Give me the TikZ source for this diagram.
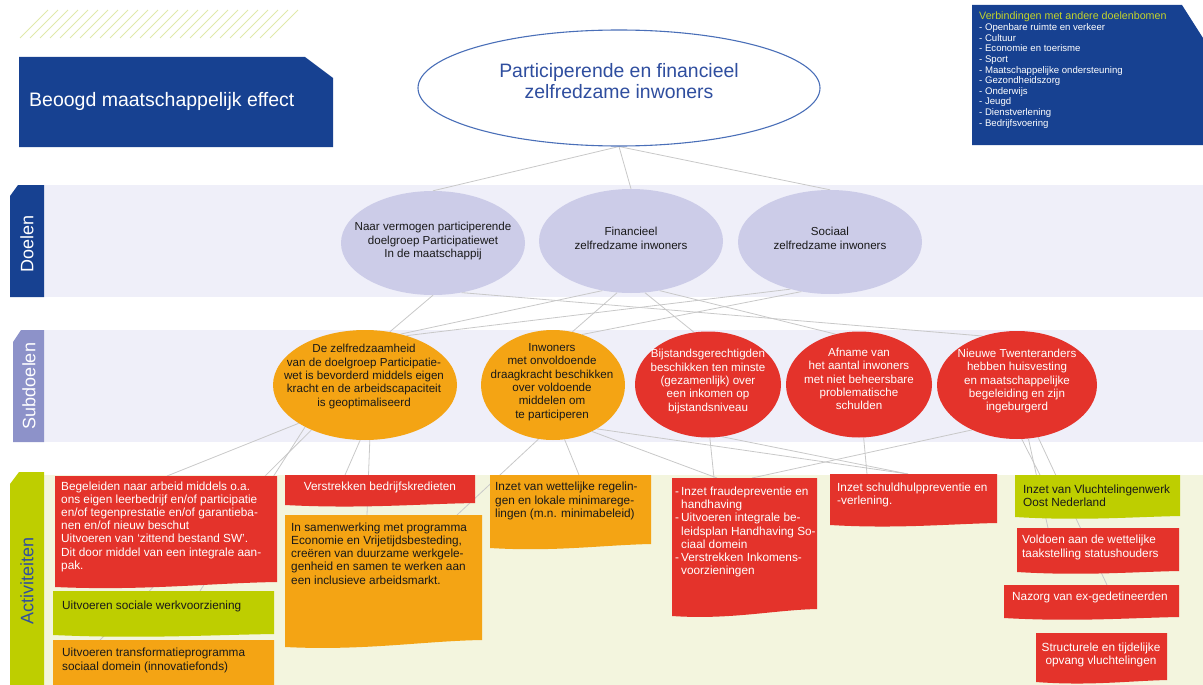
\documentclass[tikz,border=0pt]{standalone}
\usepackage{fontspec}
\setmainfont{Liberation Sans}
\usetikzlibrary{shapes.geometric}
\pgfdeclarelayer{bg}
\pgfdeclarelayer{lines}
\pgfsetlayers{bg,lines,main}
\definecolor{dblue}{RGB}{23,65,145}
\definecolor{tabpurple}{RGB}{141,146,201}
\definecolor{lime}{RGB}{190,206,0}
\definecolor{bandlav}{RGB}{239,239,249}
\definecolor{bandgreen}{RGB}{243,245,222}
\definecolor{doelfill}{RGB}{204,204,232}
\definecolor{orng}{RGB}{244,164,20}
\definecolor{rood}{RGB}{228,51,43}
\definecolor{conncol}{RGB}{200,200,200}
\definecolor{hatchcol}{RGB}{224,233,170}
\definecolor{titleblue}{RGB}{47,78,159}
\definecolor{ellblue}{RGB}{74,111,184}
\definecolor{verbgreen}{RGB}{196,212,42}
\definecolor{txt}{RGB}{25,25,25}
\newcommand\actbox[7]{%
  \fill[#2] (#3,#4) -- (#5,#4) -- (#5,#7) .. controls ({#5-0.3*(#5-#3)},{#7+1}) and ({#3+0.4*(#5-#3)},{#6+4}) .. (#3,#6) -- cycle;
  \node[boxnode, minimum width={#5-#3}, minimum height={#7-#4}] (#1) at (#3,#4) {};}
\newcommand\itm{\makebox[6pt][l]{-}}
\newcommand\hangi{\hspace*{6pt}}
\begin{document}
\begin{tikzpicture}[x=1pt,y=-1pt,
  conn/.style={draw=conncol, line width=0.8pt},
  boxnode/.style={anchor=north west, inner sep=0pt},
  doel/.style={ellipse, fill=doelfill, inner sep=0pt, minimum width=184pt, minimum height=104pt},
  sub/.style={ellipse, inner sep=0pt},
  etext/.style={align=center, inner sep=0pt, font=\fontsize{11.6}{13.3}\selectfont, text=txt},
  atext/.style={align=left, anchor=west, inner sep=0pt, font=\fontsize{11.8}{13.2}\selectfont, text=txt},
  wtext/.style={text=white},
  tablabel/.style={rotate=90, inner sep=0pt, font=\fontsize{18}{20}\selectfont}]
\useasboundingbox (0,0) rectangle (1203,685);
% bands and tabs
\begin{pgfonlayer}{bg}
\fill[bandlav] (44,185) rectangle (1203,297);
\fill[bandlav] (44,330) rectangle (1203,442);
\fill[bandgreen] (44,475) rectangle (1203,685);
\fill[dblue] (10,196) -- (18,185) -- (44,185) -- (44,297) -- (10,297) -- cycle;
\fill[tabpurple] (13,342) -- (21,330) -- (44,330) -- (44,442) -- (13,442) -- cycle;
\fill[lime] (10,484) -- (19,472) -- (44,472) -- (44,685) -- (10,685) -- cycle;
\end{pgfonlayer}
\node[tablabel, text=white] (lblD) at (27,244) {Doelen};
\node[tablabel, text=white] (lblS) at (29,386) {Subdoelen};
\node[tablabel, text=titleblue] (lblA) at (27,581) {Activiteiten};
% hatch
\foreach \k in {0,...,25} \draw[hatchcol, line width=1pt] ({20+10*\k},38) -- ({48+10*\k},10);
% effect box
\fill[dblue] (19,57) -- (305,57) -- (333,78) -- (333,147) -- (19,147) -- cycle;
\node[anchor=west, inner sep=0pt, text=white, font=\fontsize{19.5}{22}\selectfont] (effect) at (29,101) {Beoogd maatschappelijk effect};
% verbindingen box
\fill[dblue] (972,5) -- (1182,5) -- (1203,38) -- (1203,145) -- (972,145) -- cycle;
\node[anchor=west, inner sep=0pt, text=verbgreen, font=\fontsize{10.7}{12}\selectfont] (verbt) at (979,16.5) {Verbindingen met andere doelenbomen};
\node[anchor=west, align=left, inner sep=0pt, text=white, font=\fontsize{9.6}{10.6}\selectfont] (verbl) at (979,76) {- Openbare ruimte en verkeer\\- Cultuur\\- Economie en toerisme\\- Sport\\- Maatschappelijke ondersteuning\\- Gezondheidszorg\\- Onderwijs\\- Jeugd\\- Dienstverlening\\- Bedrijfsvoering};
% top ellipse
\node[ellipse, draw=ellblue, line width=1.1pt, fill=white, minimum width=402pt, minimum height=116pt, inner sep=0pt] (T) at (619,88) {};
\node[align=center, inner sep=0pt, text=titleblue, font=\fontsize{19.4}{21.7}\selectfont] (Tt) at (619,81) {Participerende en financieel\\zelfredzame inwoners};
% doelen
\node[doel] (E1) at (433,243) {};
\node[doel] (E2) at (631,241) {};
\node[doel] (E3) at (830,242) {};
\node[etext] (E1t) at (433,241) {Naar vermogen participerende\\doelgroep Participatiewet\\In de maatschappij};
\node[etext] (E2t) at (631,238.5) {Financieel\\zelfredzame inwoners};
\node[etext] (E3t) at (830,238.5) {Sociaal\\zelfredzame inwoners};
% subdoelen
\node[sub, fill=orng, minimum width=184pt, minimum height=110pt] (S1) at (365,385) {};
\node[sub, fill=orng, minimum width=144pt, minimum height=110pt] (S2) at (553,385) {};
\node[sub, fill=rood, minimum width=146pt, minimum height=106pt] (S3) at (708,384.5) {};
\node[sub, fill=rood, minimum width=146pt, minimum height=106pt] (S4) at (859,384.5) {};
\node[sub, fill=rood, minimum width=160pt, minimum height=108pt] (S5) at (1017,385) {};
\node[etext] (S1t) at (364,376.5) {De zelfredzaamheid\\van de doelgroep Participatie-\\wet is bevorderd middels eigen\\kracht en de arbeidscapaciteit\\is geoptimaliseerd};
\node[etext] (S2t) at (552,382) {Inwoners\\met onvoldoende\\draagkracht beschikken\\over voldoende\\middelen om\\te participeren};
\node[etext, wtext] (S3t) at (708,381.5) {Bijstandsgerechtigden\\beschikken ten minste\\(gezamenlijk) over\\een inkomen op\\bijstandsniveau};
\node[etext, wtext] (S4t) at (859,379) {Afname van\\het aantal inwoners\\met niet beheersbare\\problematische\\schulden};
\node[etext, wtext] (S5t) at (1017,381) {Nieuwe Twenteranders\\hebben huisvesting\\en maatschappelijke\\begeleiding en zijn\\ingeburgerd};
% activiteiten
\actbox{A1}{rood}{55}{476}{277}{587}{582}
\actbox{A2}{lime}{53}{591}{274}{635}{634}
\actbox{A3}{orng}{53}{640}{274}{685}{685}
\actbox{A4}{rood}{285}{475}{475}{505}{503}
\actbox{A5}{orng}{285}{515}{482}{647}{640}
\actbox{A6}{orng}{490}{475}{651}{548}{544}
\actbox{A7}{rood}{672}{478}{817}{616}{609}
\actbox{A8}{rood}{830}{474}{997}{525}{523}
\actbox{A9}{lime}{1015}{475}{1180}{517}{516}
\actbox{A10}{rood}{1017}{528}{1179}{572}{571}
\actbox{A11}{rood}{1004}{585}{1179}{618}{617}
\actbox{A12}{rood}{1036}{633}{1167}{682}{680}
\node[atext, wtext] (A1t) at (61,526.6) {Begeleiden naar arbeid middels o.a.\\ons eigen leerbedrijf en/of participatie\\en/of tegenprestatie en/of garantieba-\\nen en/of nieuw beschut\\Uitvoeren van ‘zittend bestand SW’.\\Dit door middel van een integrale aan-\\pak.};
\node[atext] (A2t) at (62,606) {Uitvoeren sociale werkvoorziening};
\node[atext] (A3t) at (62,660.5) {Uitvoeren transformatieprogramma\\sociaal domein (innovatiefonds)};
\node[atext, wtext, anchor=center] (A4t) at (380,487) {Verstrekken bedrijfskredieten};
\node[atext] (A5t) at (291,553.5) {In samenwerking met programma\\Economie en Vrijetijdsbesteding,\\creëren van duurzame werkgele-\\genheid en samen te werken aan\\een inclusieve arbeidsmarkt.};
\node[atext] (A6t) at (495,501) {Inzet van wettelijke regelin-\\gen en lokale minimarege-\\lingen (m.n. minimabeleid)};
\node[atext, wtext] (A7t) at (675,532) {\itm Inzet fraudepreventie en\\\hangi handhaving\\\itm Uitvoeren integrale be-\\\hangi leidsplan Handhaving So-\\\hangi ciaal domein\\\itm Verstrekken Inkomens-\\\hangi voorzieningen};
\node[atext, wtext] (A8t) at (837,495) {Inzet schuldhulppreventie en\\-verlening.};
\node[atext] (A9t) at (1023,496) {Inzet van Vluchtelingenwerk\\Oost Nederland};
\node[atext, wtext] (A10t) at (1022,547.5) {Voldoen aan de wettelijke\\taakstelling statushouders};
\node[atext, wtext] (A11t) at (1012,597) {Nazorg van ex-gedetineerden};
\node[atext, wtext, align=center, anchor=center] (A12t) at (1101,655) {Structurele en tijdelijke\\opvang vluchtelingen};
% connectors
\begin{pgfonlayer}{lines}
\draw[conn] (T.south) -- (E1.north);
\draw[conn] (T.south) -- (E2.north);
\draw[conn] (T.south) -- (E3.north);
\draw[conn] (E1.270) -- (S1.65);
\draw[conn] (E1.300) -- (S5.125);
\draw[conn] (E2.240) -- (S1.55);
\draw[conn] (E2.255) -- (S2.70);
\draw[conn] (E2.285) -- (S3.105);
\draw[conn] (E2.300) -- (S4.115);
\draw[conn] (E3.230) -- (S1.50);
\draw[conn] (E3.240) -- (S2.60);
\draw[conn] (S1.210) -- ([xshift=112pt]A1.north west);
\draw[conn] (S1.215) -- ([xshift=147pt]A2.north west);
\draw[conn] (S1.220) -- ([xshift=47pt]A3.north west);
\draw[conn] (S1.265) -- ([xshift=60pt]A4.north west);
\draw[conn] (S1.275) -- ([xshift=82pt]A5.north west);
\draw[conn] (S2.255) -- ([xshift=172pt]A5.north west);
\draw[conn] (S2.282) -- ([xshift=89pt]A6.north west);
\draw[conn] (S2.310) -- ([xshift=45pt]A7.north west);
\draw[conn] (S2.315) -- ([xshift=78pt]A8.north west);
\draw[conn] (S3.272) -- ([xshift=42pt]A7.north west);
\draw[conn] (S3.285) -- ([xshift=78pt]A8.north west);
\draw[conn] (S4.275) -- ([xshift=37pt]A8.north west);
\draw[conn] (S5.225) -- ([xshift=80pt]A7.north west);
\draw[conn] (S5.275) -- ([xshift=25pt]A9.north west);
\draw[conn] (S5.282) -- ([xshift=31pt]A10.north west);
\draw[conn] (S5.292) -- ([xshift=103pt]A11.north west);
\end{pgfonlayer}
\end{tikzpicture}
\end{document}
